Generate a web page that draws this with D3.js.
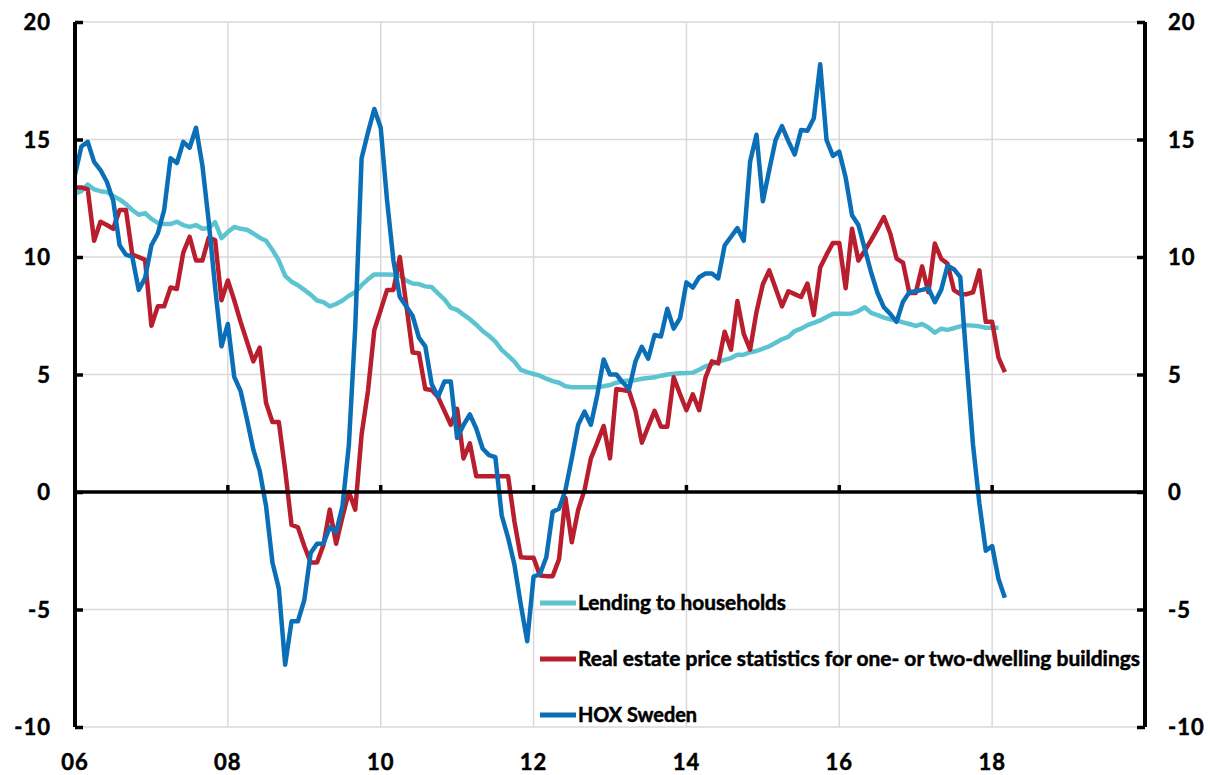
<!DOCTYPE html>
<html>
<head>
<meta charset="utf-8">
<script src="https://cdn.jsdelivr.net/npm/d3@7"></script>
<style>
  html, body { margin: 0; padding: 0; background: #fff; }
  svg text { font-family: "Lato", "Open Sans", sans-serif; font-weight: 700; fill: #000; stroke: #000; stroke-width: 0.5px; }
</style>
</head>
<body>
<div id="chart"></div>
<script>
// monthly series, first value = Jan 2006
const START_YEAR = 2006;

const seriesNames = [
    "Lending to households",
    "Real estate price statistics for one- or two-dwelling buildings",
    "HOX Sweden"
];

const lendingToHouseholds = [
    12.7, 12.8, 13.08, 12.88, 12.8, 12.76, 12.6, 12.45, 12.25, 12.0, 11.8, 11.87,
    11.62, 11.45, 11.4, 11.4, 11.5, 11.36, 11.28, 11.36, 11.2, 11.23, 11.48, 10.8,
    11.06, 11.28, 11.2, 11.16, 11.0, 10.82, 10.69, 10.3, 9.85, 9.2, 8.95, 8.8,
    8.6, 8.4, 8.15, 8.08, 7.9, 8.0, 8.15, 8.35, 8.5, 8.8, 9.05, 9.26,
    9.26, 9.26, 9.24, 9.2, 9.0, 8.87, 8.85, 8.75, 8.72, 8.45, 8.2, 7.85,
    7.75, 7.55, 7.35, 7.12, 6.85, 6.65, 6.4, 6.05, 5.8, 5.55, 5.2, 5.1,
    5.02, 4.95, 4.82, 4.72, 4.65, 4.5, 4.46, 4.46, 4.46, 4.46, 4.46, 4.5,
    4.55, 4.65, 4.71, 4.74, 4.76, 4.82, 4.85, 4.88, 4.95, 5.0, 5.03, 5.05,
    5.06, 5.08, 5.2, 5.35, 5.44, 5.55, 5.62, 5.7, 5.84, 5.84, 5.95, 6.0,
    6.1, 6.2, 6.35, 6.5, 6.6, 6.85, 6.95, 7.1, 7.2, 7.3, 7.45, 7.58,
    7.58, 7.58, 7.6, 7.7, 7.86, 7.62, 7.53, 7.42, 7.35, 7.3, 7.22, 7.15,
    7.07, 7.15, 7.0, 6.78, 6.95, 6.9, 6.97, 7.05, 7.1, 7.08, 7.05, 6.99,
    6.99, 6.99
];

const realEstatePrices = [
    12.96, 12.96, 12.88, 10.69, 11.5, 11.36, 11.2, 12.0, 12.0, 10.1, 10.0, 9.88,
    7.07, 7.9, 7.9, 8.7, 8.64, 10.19, 10.86, 9.85, 9.85, 10.82, 10.72, 8.16,
    9.0, 8.16, 7.24, 6.4, 5.56, 6.14, 3.79, 2.98, 2.98, 0.93, -1.4, -1.5,
    -2.3, -3.0, -3.0, -2.26, -0.75, -2.2, -1.05, 0.0, -0.75, 2.44, 4.3, 6.9,
    7.74, 8.6, 8.6, 10.0, 8.0, 5.94, 5.9, 4.38, 4.34, 4.04, 3.45, 2.86,
    3.54, 1.43, 2.07, 0.67, 0.67, 0.67, 0.67, 0.67, 0.67, -1.26, -2.78, -2.8,
    -2.8, -3.55, -3.58, -3.58, -2.86, -0.25, -2.14, -0.76, 0.08, 1.43, 2.1, 2.81,
    1.43, 4.38, 4.34, 4.29, 3.45, 2.1, 2.78, 3.45, 2.78, 2.78, 4.88, 4.16,
    3.48, 4.16, 3.48, 4.88, 5.56, 5.47, 6.82, 6.06, 8.13, 6.73, 6.06, 7.66,
    8.84, 9.43, 8.67, 7.9, 8.54, 8.42, 8.3, 8.87, 7.53, 9.55, 10.1, 10.6,
    10.6, 8.67, 11.2, 9.85, 10.27, 10.72, 11.2, 11.7, 11.0, 9.93, 9.76, 8.47,
    8.47, 9.6, 8.5, 10.57, 9.93, 9.71, 8.59, 8.42, 8.42, 8.5, 9.43, 7.24,
    7.24, 5.72, 5.1
];

const hoxSweden = [
    13.5, 14.7, 14.9, 14.05, 13.7, 13.2, 12.4, 10.5, 10.1, 10.0, 8.6, 9.1,
    10.5, 11.0, 12.0, 14.2, 14.0, 14.9, 14.65, 15.5, 13.9, 11.5, 8.7, 6.2,
    7.15, 4.9, 4.3, 3.1, 1.8, 0.9, -0.6, -3.0, -4.1, -7.35, -5.5, -5.5,
    -4.6, -2.6, -2.2, -2.2, -1.5, -1.7, -0.6, 2.0, 7.0, 14.2, 15.3, 16.3,
    15.5, 12.4, 9.85, 8.3, 7.9, 7.5, 6.57, 6.2, 4.6, 4.05, 4.7, 4.7,
    2.3, 2.85, 3.3, 2.7, 1.85, 1.57, 1.48, -1.0, -1.95, -3.1, -4.8, -6.35,
    -3.6, -3.5, -2.78, -0.84, -0.71, 0.08, 1.43, 2.86, 3.42, 2.86, 4.12, 5.64,
    5.0, 5.0, 4.66, 4.38, 5.56, 6.18, 5.67, 6.68, 6.62, 7.8, 6.95, 7.4,
    8.92, 8.7, 9.14, 9.3, 9.3, 9.09, 10.49, 10.86, 11.23, 10.69, 14.06, 15.2,
    12.37, 13.7, 14.98, 15.57, 14.93, 14.36, 15.4, 15.37, 15.9, 18.2, 14.98, 14.3,
    14.48, 13.38, 11.78, 11.36, 10.35, 9.34, 8.47, 7.86, 7.58, 7.24, 8.1, 8.5,
    8.54, 8.6, 8.67, 8.08, 8.6, 9.63, 9.48, 9.14, 5.5, 2.0, -0.5, -2.5,
    -2.3, -3.7, -4.5
];

const yearTicks = [2006, 2008, 2010, 2012, 2014, 2016, 2018];
const yearLabels = ["06", "08", "10", "12", "14", "16", "18"];
const valueTicks = [-10, -5, 0, 5, 10, 15, 20];

const chartApp = (() => {
    const WIDTH = 1210;
    const HEIGHT = 775;
    const margin = { top: 22, right: 65, bottom: 48, left: 75 };
    const colors = ["#5cc4d1", "#b81e2e", "#0a6fb7"];
    const legendWidths = [208, 562, 119];

    const draw = () => {
        const svg = d3.select("#chart").append("svg")
            .attr("width", WIDTH)
            .attr("height", HEIGHT);

        const x = d3.scaleLinear()
            .domain([2006, 2020])
            .range([margin.left, WIDTH - margin.right]);

        const y = d3.scaleLinear()
            .domain([-10, 20])
            .range([HEIGHT - margin.bottom, margin.top]);

        const x0 = x.range()[0];
        const x1 = x.range()[1];

        // grid
        const grid = svg.append("g").attr("stroke", "#d9d9d9").attr("stroke-width", 1.5);
        grid.selectAll(".hgrid")
            .data(valueTicks.filter(v => v !== 0))
            .enter().append("line")
            .attr("x1", x0).attr("x2", x1)
            .attr("y1", d => y(d)).attr("y2", d => y(d));
        grid.selectAll(".vgrid")
            .data(yearTicks.slice(1))
            .enter().append("line")
            .attr("x1", d => x(d)).attr("x2", d => x(d))
            .attr("y1", y(20)).attr("y2", y(-10));

        // series
        const line = d3.line()
            .x((d, i) => x(START_YEAR + i / 12))
            .y(d => y(d));

        [lendingToHouseholds, realEstatePrices, hoxSweden].forEach((values, i) => {
            svg.append("path")
                .datum(values)
                .attr("fill", "none")
                .attr("stroke", colors[i])
                .attr("stroke-width", 4.5)
                .attr("stroke-linejoin", "round")
                .attr("d", line);
        });

        // zero line with ticks
        svg.append("line")
            .attr("x1", x0).attr("x2", x1)
            .attr("y1", y(0)).attr("y2", y(0))
            .attr("stroke", "#000").attr("stroke-width", 3.5);
        svg.selectAll(".xtick")
            .data(yearTicks.slice(1))
            .enter().append("line")
            .attr("x1", d => x(d)).attr("x2", d => x(d))
            .attr("y1", y(0)).attr("y2", y(0) - 7)
            .attr("stroke", "#000").attr("stroke-width", 3.5);

        // left and right axes
        const leftAxis = d3.axisLeft(y).tickValues(valueTicks).tickSize(-8).tickFormat("");
        const rightAxis = d3.axisRight(y).tickValues(valueTicks).tickSize(-8).tickFormat("");
        [[leftAxis, x0], [rightAxis, x1]].forEach(([axis, pos]) => {
            const g = svg.append("g").attr("transform", `translate(${pos},0)`).call(axis);
            g.select(".domain").attr("stroke", "#000").attr("stroke-width", 4).attr("d", `M0,${y(20)}V${y(-10)}`);
            g.selectAll(".tick line").attr("stroke", "#000").attr("stroke-width", 3.5);
        });

        // tick labels
        svg.selectAll(".ylabel-left")
            .data(valueTicks)
            .enter().append("text")
            .attr("x", 51)
            .attr("y", d => y(d) + 8)
            .attr("text-anchor", "end")
            .style("font-size", "22px")
            .style("letter-spacing", "1px")
            .text(d => d);
        svg.selectAll(".ylabel-right")
            .data(valueTicks)
            .enter().append("text")
            .attr("x", x1 + 23)
            .attr("y", d => y(d) + 8)
            .attr("text-anchor", "start")
            .style("font-size", "22px")
            .style("letter-spacing", "1px")
            .text(d => d);
        svg.selectAll(".xlabel")
            .data(yearTicks)
            .enter().append("text")
            .attr("x", d => x(d))
            .attr("y", HEIGHT - 5)
            .attr("text-anchor", "middle")
            .style("font-size", "22px")
            .style("letter-spacing", "1px")
            .text((d, i) => yearLabels[i]);

        // legend
        const legend = svg.append("g").attr("transform", "translate(540,603)");
        seriesNames.forEach((name, i) => {
            const item = legend.append("g").attr("transform", `translate(0,${i * 56})`);
            item.append("line")
                .attr("x1", 0).attr("x2", 36)
                .attr("stroke", colors[i])
                .attr("stroke-width", 5);
            item.append("text")
                .attr("x", 38)
                .attr("y", 7)
                .attr("textLength", legendWidths[i])
                .attr("lengthAdjust", "spacingAndGlyphs")
                .style("font-size", "20px")
                .text(name);
        });
    };

    return { draw };
})();

document.addEventListener("DOMContentLoaded", chartApp.draw);
</script>
</body>
</html>
